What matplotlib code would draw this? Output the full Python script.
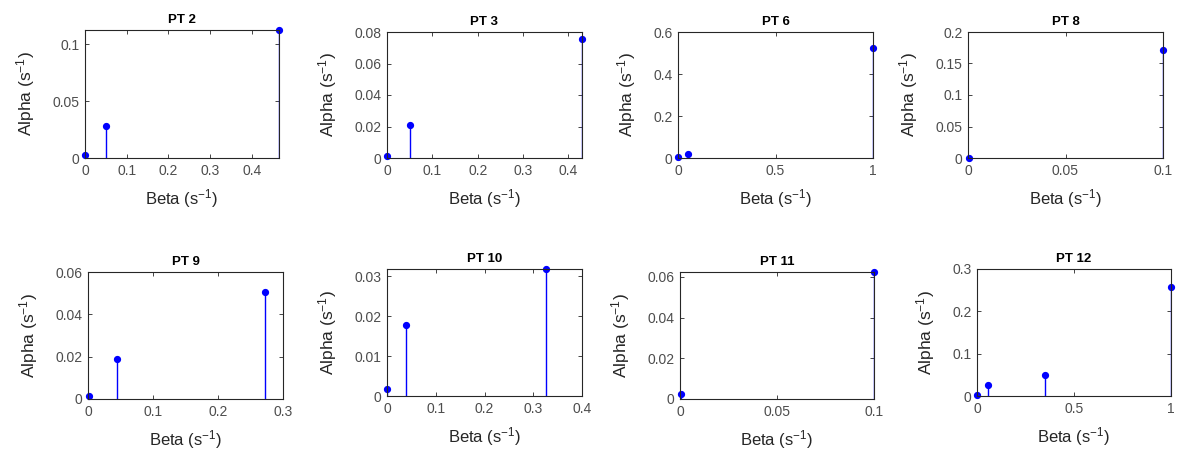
import matplotlib
matplotlib.use('Agg')
import matplotlib.pyplot as plt
from matplotlib.ticker import MultipleLocator, FormatStrFormatter

plt.rcParams['font.family'] = ['Liberation Sans', 'DejaVu Sans']
plt.rcParams['mathtext.default'] = 'regular'

# 数据：每个病人的 beta / alpha 值
titles = ['PT 2', 'PT 3', 'PT 6', 'PT 8', 'PT 9', 'PT 10', 'PT 11', 'PT 12']
beta = [
    [0.001, 0.05, 0.465],
    [0.001, 0.05, 0.43],
    [0.001, 0.05, 1.0],
    [0.0005, 0.1],
    [0.001, 0.045, 0.273],
    [0.001, 0.038, 0.327],
    [0.0005, 0.1],
    [0.002, 0.055, 0.35, 1.0],
]
alpha = [
    [0.003, 0.0285, 0.1125],
    [0.0015, 0.0208, 0.0757],
    [0.003, 0.021, 0.525],
    [0.0005, 0.172],
    [0.0013, 0.0189, 0.0505],
    [0.0018, 0.0179, 0.0318],
    [0.0026, 0.0624],
    [0.002, 0.025, 0.05, 0.257],
]
x_lim = [0.465, 0.43, 1.0, 0.1, 0.3, 0.4, 0.1, 1.0]
y_lim = [0.1125, 0.08, 0.6, 0.2, 0.06, 0.0318, 0.0624, 0.3]
x_step = [0.1, 0.1, 0.5, 0.05, 0.1, 0.1, 0.05, 0.5]
y_step = [0.05, 0.02, 0.2, 0.05, 0.02, 0.01, 0.02, 0.1]

# 各子图位置（像素：左、上、右、下）
W, H = 1179, 458
boxes = [
    (85, 30, 279, 158), (387, 32, 582, 158), (678, 32, 873, 158), (968, 32, 1163, 158),
    (88, 272, 283, 399), (387, 269, 582, 396), (680, 272, 874, 399), (977, 269, 1171, 396),
]

fig = plt.figure(figsize=(W / 100, H / 100), dpi=100)
grey = '#262626'
tick_grey = '#4d4d4d'

for i in range(8):
    l, t, r, b = boxes[i]
    ax = fig.add_axes([l / W, 1 - b / H, (r - l) / W, (b - t) / H])
    markers, stems, base = ax.stem(beta[i], alpha[i], linefmt='b-', markerfmt='bo', basefmt=' ')
    markers.set_markersize(4.2)
    markers.set_clip_on(False)
    stems.set_linewidth(1.0)
    ax.set_xlim(0, x_lim[i])
    ax.set_ylim(0, y_lim[i])
    ax.xaxis.set_major_locator(MultipleLocator(x_step[i]))
    ax.yaxis.set_major_locator(MultipleLocator(y_step[i]))
    ax.xaxis.set_major_formatter(FormatStrFormatter('%g'))
    ax.yaxis.set_major_formatter(FormatStrFormatter('%g'))
    ax.tick_params(direction='in', top=True, right=True, length=3, width=0.6,
                   labelsize=10, colors=grey, labelcolor=tick_grey, pad=4)
    for s in ax.spines.values():
        s.set_color(grey)
        s.set_linewidth(0.8)
    ax.set_title(titles[i], fontsize=9.5, fontweight='bold', pad=5)
    ax.set_xlabel('Beta (s$^{-1}$)', fontsize=12, color=grey, labelpad=7)
    ax.set_ylabel('Alpha (s$^{-1}$)', fontsize=12.5, color=grey, labelpad=11)

fig.savefig('out.png', dpi=100)
